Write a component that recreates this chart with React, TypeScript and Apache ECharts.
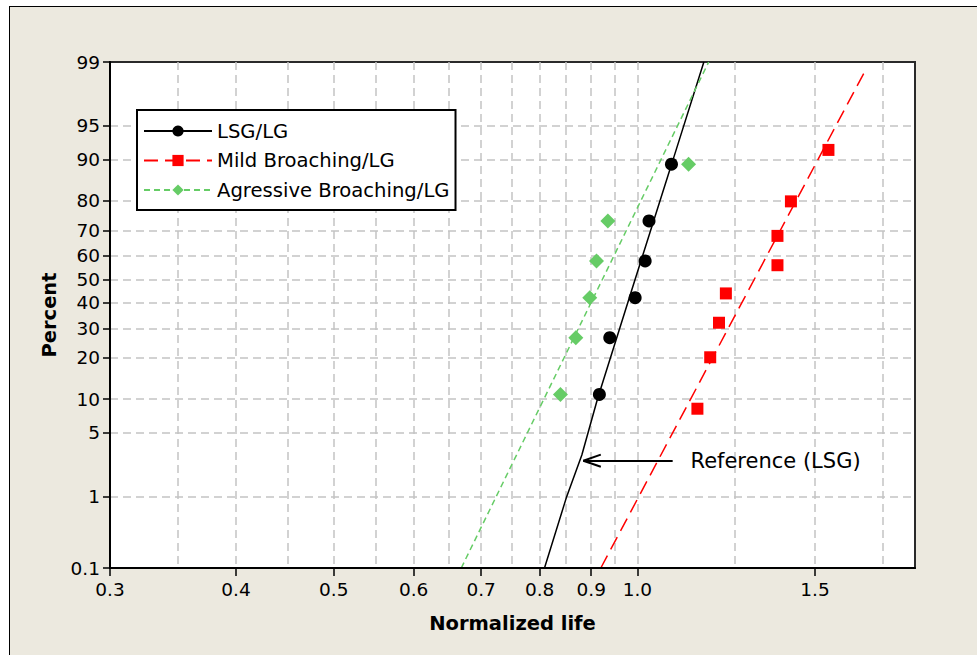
import React, { useEffect, useRef } from "react";
import * as echarts from "echarts";

// ---- Data ----
const SERIES_NAMES = ["LSG/LG", "Mild Broaching/LG", "Agressive Broaching/LG"];

// Observed points: normalized life vs. median-rank percent
const LSG_LIFE = [0.917, 0.939, 0.995, 1.018, 1.027, 1.081];
const LSG_PCT = [10.9, 26.6, 42.2, 57.8, 73.4, 89.1];

const MILD_LIFE = [1.147, 1.181, 1.205, 1.224, 1.377, 1.377, 1.42, 1.547];
const MILD_PCT = [8.3, 20.2, 32.1, 44.0, 56.0, 67.9, 79.8, 91.7];

const AGR_LIFE = [0.839, 0.869, 0.897, 0.911, 0.935, 1.124];
const AGR_PCT = [10.9, 26.6, 42.2, 57.8, 73.4, 89.1];

// Fitted / reference lines
const REF_LSG_LIFE = [0.809, 0.851, 0.881, 0.913, 0.995, 1.085, 1.164];
const REF_LSG_PCT = [0.1, 1, 3, 10, 50, 90, 99];

const MILD_FIT_LIFE = [0.92, 1.681];
const MILD_FIT_PCT = [0.1, 98.7];

const AGR_FIT_LIFE = [0.669, 1.177];
const AGR_FIT_PCT = [0.1, 99];

// Axes
const X_MIN = 0.3;
const X_MAX = 1.885;
const X_TICKS = [0.3, 0.4, 0.5, 0.6, 0.7, 0.8, 0.9, 1.0, 1.5];
const X_GRID = [0.35, 0.4, 0.45, 0.5, 0.55, 0.6, 0.65, 0.7, 0.75, 0.8, 0.85, 0.9, 0.95, 1.0, 1.25, 1.5, 1.75];
const Y_TICKS = [0.1, 1, 5, 10, 20, 30, 40, 50, 60, 70, 80, 90, 95, 99];
const Y_GRID = [1, 5, 10, 20, 30, 40, 50, 60, 70, 80, 90, 95];

// Annotation
const ANNOT_TEXT = "Reference (LSG)";
const ARROW_TAIL = [1.084, 2.61];
const ARROW_TIP = [0.884, 2.61];
const ARROW_WINGS = [
  [0.92, 3.03],
  [0.92, 2.24],
];
const ANNOT_POS = [1.129, 2.61];

// ---- Normal probability (probit) transform for the y scale ----
function probit(p: number): number {
  const a = [-3.969683028665376e1, 2.209460984245205e2, -2.759285104469687e2, 1.38357751867269e2, -3.066479806614716e1, 2.506628277459239];
  const b = [-5.447609879822406e1, 1.615858368580409e2, -1.556989798598866e2, 6.680131188771972e1, -1.328068155288572e1];
  const c = [-7.784894002430293e-3, -3.223964580411365e-1, -2.400758277161838, -2.549671010243738, 4.374664141464968, 2.938163982698783];
  const d = [7.784695709041462e-3, 3.224671290700398e-1, 2.445134137142996, 3.754408661907416];
  const pl = 0.02425;
  const ph = 1 - pl;
  if (p < pl) {
    const q = Math.sqrt(-2 * Math.log(p));
    return (((((c[0] * q + c[1]) * q + c[2]) * q + c[3]) * q + c[4]) * q + c[5]) / ((((d[0] * q + d[1]) * q + d[2]) * q + d[3]) * q + 1);
  }
  if (p <= ph) {
    const q = p - 0.5;
    const r = q * q;
    return ((((((a[0] * r + a[1]) * r + a[2]) * r + a[3]) * r + a[4]) * r + a[5]) * q) / (((((b[0] * r + b[1]) * r + b[2]) * r + b[3]) * r + b[4]) * r + 1);
  }
  const q = Math.sqrt(-2 * Math.log(1 - p));
  return -(((((c[0] * q + c[1]) * q + c[2]) * q + c[3]) * q + c[4]) * q + c[5]) / ((((d[0] * q + d[1]) * q + d[2]) * q + d[3]) * q + 1);
}
const py = (pct: number) => probit(pct / 100);
const pairs = (xs: number[], ps: number[]) => xs.map((x, i) => [x, py(ps[i])]);

const FONT = "DejaVu Sans";
const BLACK = "#000000";
const RED = "#FF0000";
const GREEN = "#66CC66";
const GRID_GRAY = "#C4C4C4";

export default function App() {
  const ref = useRef<HTMLDivElement>(null);

  useEffect(() => {
    if (!ref.current) return;
    const chart = echarts.init(ref.current, null, { renderer: "svg" });
    const yTickVals = Y_TICKS.map(py);
    const yGridVals = Y_GRID.map(py);
    const yMin = py(Y_TICKS[0]);
    const yMax = py(Y_TICKS[Y_TICKS.length - 1]);

    const yLabel = (v: number) => {
      let best = 0;
      let bd = Infinity;
      yTickVals.forEach((t, i) => {
        const dd = Math.abs(t - v);
        if (dd < bd) {
          bd = dd;
          best = i;
        }
      });
      return String(Y_TICKS[best]);
    };

    const gridLine = { show: true, lineStyle: { color: GRID_GRAY, width: 1.5, type: [8, 5] } };

    const option: any = {
      animation: false,
      backgroundColor: "transparent",
      textStyle: { fontFamily: FONT },
      grid: {
        left: 110,
        right: 62,
        top: 62,
        bottom: 87,
        show: true,
        backgroundColor: "#FFFFFF",
        borderColor: "#2A2A2A",
        borderWidth: 2,
        containLabel: false,
      },
      legend: {
        orient: "vertical",
        left: 137,
        top: 110,
        data: SERIES_NAMES,
        itemWidth: 68,
        itemHeight: 14,
        itemGap: 9.5,
        padding: [11, 6, 10, 6],
        backgroundColor: "#FFFFFF",
        borderColor: BLACK,
        borderWidth: 2,
        borderRadius: 0,
        selectedMode: false,
        textStyle: { fontFamily: FONT, fontSize: 19.6, color: BLACK },
      },
      xAxis: [
        {
          type: "log",
          min: X_MIN,
          max: X_MAX,
          position: "bottom",
          name: "Normalized life",
          nameLocation: "middle",
          nameGap: 45,
          nameTextStyle: { fontFamily: FONT, fontSize: 19.5, fontWeight: "bold", color: BLACK },
          axisLine: { show: true, onZero: false, lineStyle: { color: BLACK, width: 2 } },
          axisTick: { show: true, inside: false, length: 8, customValues: X_TICKS, lineStyle: { color: BLACK, width: 1.5 } },
          axisLabel: {
            show: true,
            customValues: X_TICKS,
            margin: 12,
            fontFamily: FONT,
            fontSize: 18.5,
            color: BLACK,
            formatter: (v: number) => v.toFixed(1),
          },
          splitLine: { show: false },
          z: 5,
        },
        {
          type: "log",
          min: X_MIN,
          max: X_MAX,
          position: "bottom",
          axisLine: { show: false, onZero: false },
          axisTick: { show: false, customValues: X_GRID },
          axisLabel: { show: false },
          splitLine: gridLine,
          z: 1,
        },
      ],
      yAxis: [
        {
          type: "value",
          min: yMin,
          max: yMax,
          position: "left",
          name: "Percent",
          nameLocation: "middle",
          nameGap: 50,
          nameTextStyle: { fontFamily: FONT, fontSize: 19.5, fontWeight: "bold", color: BLACK },
          axisLine: { show: true, onZero: false, lineStyle: { color: BLACK, width: 2 } },
          axisTick: { show: true, length: 7, customValues: yTickVals, lineStyle: { color: BLACK, width: 1.5 } },
          axisLabel: {
            show: true,
            customValues: yTickVals,
            margin: 10,
            fontFamily: FONT,
            fontSize: 18.5,
            color: BLACK,
            formatter: yLabel,
          },
          splitLine: { show: false },
          z: 5,
        },
        {
          type: "value",
          min: yMin,
          max: yMax,
          position: "left",
          axisLine: { show: false, onZero: false },
          axisTick: { show: false, customValues: yGridVals },
          axisLabel: { show: false },
          splitLine: gridLine,
          z: 1,
        },
      ],
      series: [
        {
          name: SERIES_NAMES[0],
          type: "line",
          data: pairs(REF_LSG_LIFE, REF_LSG_PCT),
          symbol: "circle",
          showSymbol: false,
          lineStyle: { color: BLACK, width: 1.5, type: "solid" },
          itemStyle: { color: BLACK },
          z: 3,
        },
        {
          name: SERIES_NAMES[1],
          type: "line",
          data: pairs(MILD_FIT_LIFE, MILD_FIT_PCT),
          symbol: "rect",
          showSymbol: false,
          lineStyle: { color: RED, width: 1.5, type: [14, 7] },
          itemStyle: { color: RED },
          z: 3,
        },
        {
          name: SERIES_NAMES[2],
          type: "line",
          data: pairs(AGR_FIT_LIFE, AGR_FIT_PCT),
          symbol: "diamond",
          showSymbol: false,
          lineStyle: { color: GREEN, width: 1.5, type: [6, 4] },
          itemStyle: { color: GREEN },
          z: 3,
        },
        {
          name: "LSG/LG points",
          type: "scatter",
          data: pairs(LSG_LIFE, LSG_PCT),
          symbol: "circle",
          symbolSize: 13,
          itemStyle: { color: BLACK, opacity: 1 },
          z: 4,
        },
        {
          name: "Mild points",
          type: "scatter",
          data: pairs(MILD_LIFE, MILD_PCT),
          symbol: "rect",
          symbolSize: 12,
          itemStyle: { color: RED, opacity: 1 },
          z: 4,
        },
        {
          name: "Agressive points",
          type: "scatter",
          data: pairs(AGR_LIFE, AGR_PCT),
          symbol: "diamond",
          symbolSize: [15, 15],
          itemStyle: { color: GREEN, opacity: 1 },
          z: 4,
        },
        {
          name: "annotation",
          type: "line",
          data: [],
          silent: true,
          markLine: {
            silent: true,
            symbol: ["none", "none"],
            label: { show: false },
            lineStyle: { color: BLACK, width: 2, type: "solid" },
            data: [
              [{ coord: [ARROW_TAIL[0], py(ARROW_TAIL[1])] }, { coord: [ARROW_TIP[0], py(ARROW_TIP[1])] }],
              [{ coord: [ARROW_TIP[0], py(ARROW_TIP[1])] }, { coord: [ARROW_WINGS[0][0], py(ARROW_WINGS[0][1])] }],
              [{ coord: [ARROW_TIP[0], py(ARROW_TIP[1])] }, { coord: [ARROW_WINGS[1][0], py(ARROW_WINGS[1][1])] }],
            ],
          },
          markPoint: {
            silent: true,
            symbol: "circle",
            symbolSize: 0,
            data: [{ coord: [ANNOT_POS[0], py(ANNOT_POS[1])] }],
            label: {
              show: true,
              position: "right",
              distance: 0,
              formatter: ANNOT_TEXT,
              fontFamily: FONT,
              fontSize: 21,
              color: BLACK,
            },
          },
          z: 5,
        },
      ],
    };

    chart.setOption(option);
    return () => chart.dispose();
  }, []);

  return (
    <div style={{ position: "absolute", left: 0, top: 0, width: 977, height: 655, background: "#FFFFFF", overflow: "hidden" }}>
      <div
        style={{
          position: "absolute",
          left: 9,
          top: 6,
          width: 980,
          height: 660,
          background: "#ECE9DF",
          borderTop: "1px solid #000",
          borderLeft: "1px solid #000",
        }}
      />
      <div ref={ref} style={{ position: "absolute", left: 0, top: 0, width: 977, height: 655 }} />
    </div>
  );
}
